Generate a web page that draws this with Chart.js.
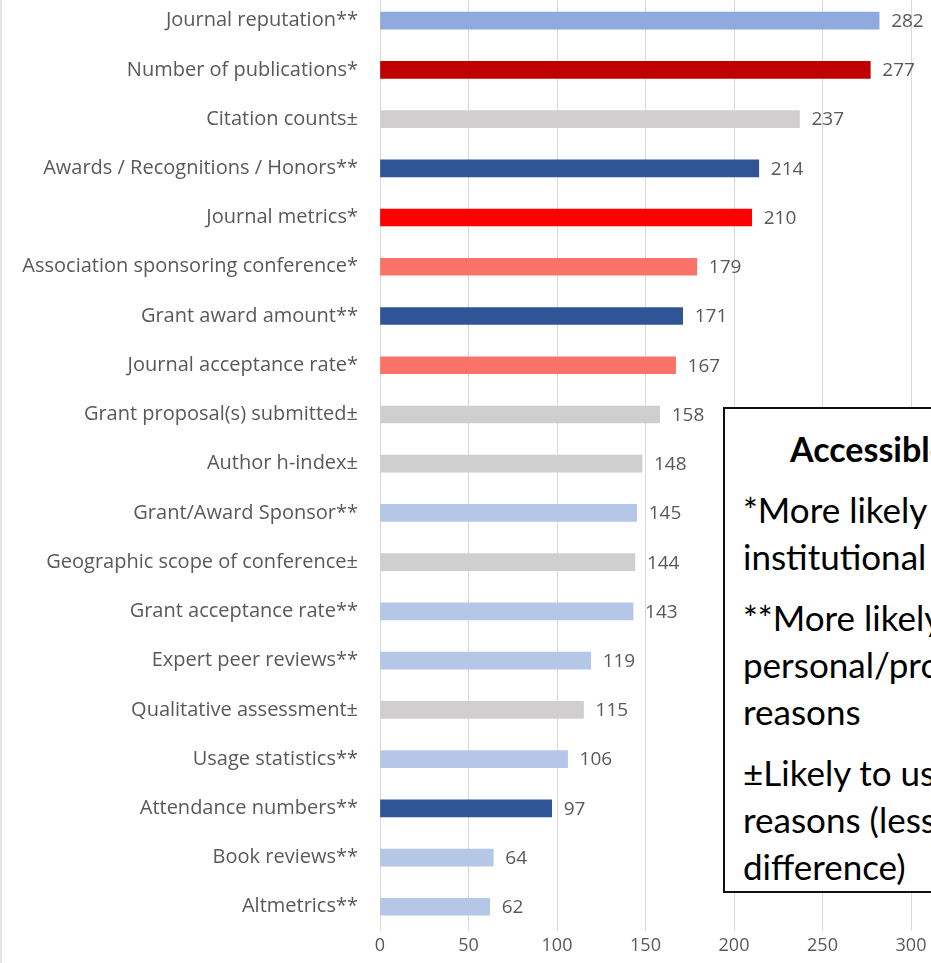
<!DOCTYPE html>
<html>
<head>
<meta charset="utf-8">
<title>Metrics used</title>
<script src="https://cdn.jsdelivr.net/npm/chart.js@4.4.1/dist/chart.umd.min.js"></script>
<style>
  html, body { margin: 0; padding: 0; background: #fff; }
  body { width: 931px; height: 963px; overflow: hidden; position: relative; }
  #wrap { position: absolute; left: 0; top: -20px; width: 931px; height: 983px; }
  .edge { position: absolute; left: 0; top: 0; width: 2px; height: 963px; background: #e6e6e6; }
  .key {
    position: absolute; left: 723px; top: 407px; width: 420px; height: 486px;
    border: 2px solid #111; background: #fff; box-sizing: border-box;
    font-family: Lato, "Open Sans", sans-serif; color: #000;
    padding: 20px 0 0 18px;
  }
  .key h4 { margin: 0 0 17px 47px; font-size: 34px; line-height: 40px; font-weight: bold; }
  .key p { margin: 0 0 14px 0; font-size: 35px; line-height: 47px; white-space: nowrap; }
</style>
</head>
<body>
<div class="edge"></div>
<div id="wrap"><canvas id="chart"></canvas></div>
<div class="key">
  <h4>Accessible</h4>
  <p>*More likely<br>institutional</p>
  <p>**More likely<br>personal/professional<br>reasons</p>
  <p>±Likely to use<br>reasons (less<br>difference)</p>
</div>
<script>
// Survey counts per metric, top to bottom
const categories = [
  'Journal reputation**',
  'Number of publications*',
  'Citation counts±',
  'Awards / Recognitions / Honors**',
  'Journal metrics*',
  'Association sponsoring conference*',
  'Grant award amount**',
  'Journal acceptance rate*',
  'Grant proposal(s) submitted±',
  'Author h-index±',
  'Grant/Award Sponsor**',
  'Geographic scope of conference±',
  'Grant acceptance rate**',
  'Expert peer reviews**',
  'Qualitative assessment±',
  'Usage statistics**',
  'Attendance numbers**',
  'Book reviews**',
  'Altmetrics**'
];
const counts = [282, 277, 237, 214, 210, 179, 171, 167, 158, 148, 145, 144, 143, 119, 115, 106, 97, 64, 62];
const xTicks = [0, 50, 100, 150, 200, 250, 300];

// one colour per bar
const barColors = [
  '#8FAADC', '#C00000', '#D0CECE', '#2F5597', '#FF0000', '#FA7268', '#2F5597',
  '#FA7268', '#D0CECE', '#D0CECE', '#B4C7E7', '#D0CECE', '#B4C7E7', '#B4C7E7',
  '#D0CECE', '#B4C7E7', '#2F5597', '#B4C7E7', '#B4C7E7'
];

// numbers printed to the right of each bar
const valueLabels = {
  id: 'valueLabels',
  afterDatasetsDraw(chart) {
    const ctx = chart.ctx;
    const meta = chart.getDatasetMeta(0);
    ctx.save();
    ctx.font = '19px "Open Sans"';
    ctx.fillStyle = '#595959';
    ctx.textBaseline = 'middle';
    ctx.textAlign = 'left';
    meta.data.forEach((bar, i) => {
      ctx.fillText(String(counts[i]), bar.x + 12, bar.y + 1);
    });
    ctx.restore();
  }
};

new Chart(document.getElementById('chart'), {
  type: 'bar',
  data: {
    labels: categories,
    datasets: [{
      data: counts,
      backgroundColor: barColors,
      borderWidth: 0,
      barThickness: 17
    }]
  },
  options: {
    indexAxis: 'y',
    responsive: true,
    maintainAspectRatio: false,
    animation: false,
    layout: { padding: { top: 16, right: 20, bottom: 2, left: 0 } },
    plugins: {
      legend: { display: false },
      tooltip: { enabled: false }
    },
    scales: {
      x: {
        min: 0,
        max: 300,
        afterBuildTicks: scale => { scale.ticks = xTicks.map(v => ({ value: v })); },
        afterFit: scale => { scale.paddingLeft = 0; scale.paddingRight = 0; },
        grid: { color: '#D9D9D9', lineWidth: 1, drawTicks: false },
        border: { display: false },
        ticks: { color: '#595959', padding: 4, font: { family: 'Open Sans', size: 18 } }
      },
      y: {
        afterFit: scale => { scale.width = 380; scale.paddingTop = 0; scale.paddingBottom = 0; },
        grid: { display: false, drawTicks: false },
        border: { display: false },
        ticks: { color: '#595959', padding: 22, font: { family: 'Open Sans', size: 20 } }
      }
    }
  },
  plugins: [valueLabels]
});
</script>
</body>
</html>
